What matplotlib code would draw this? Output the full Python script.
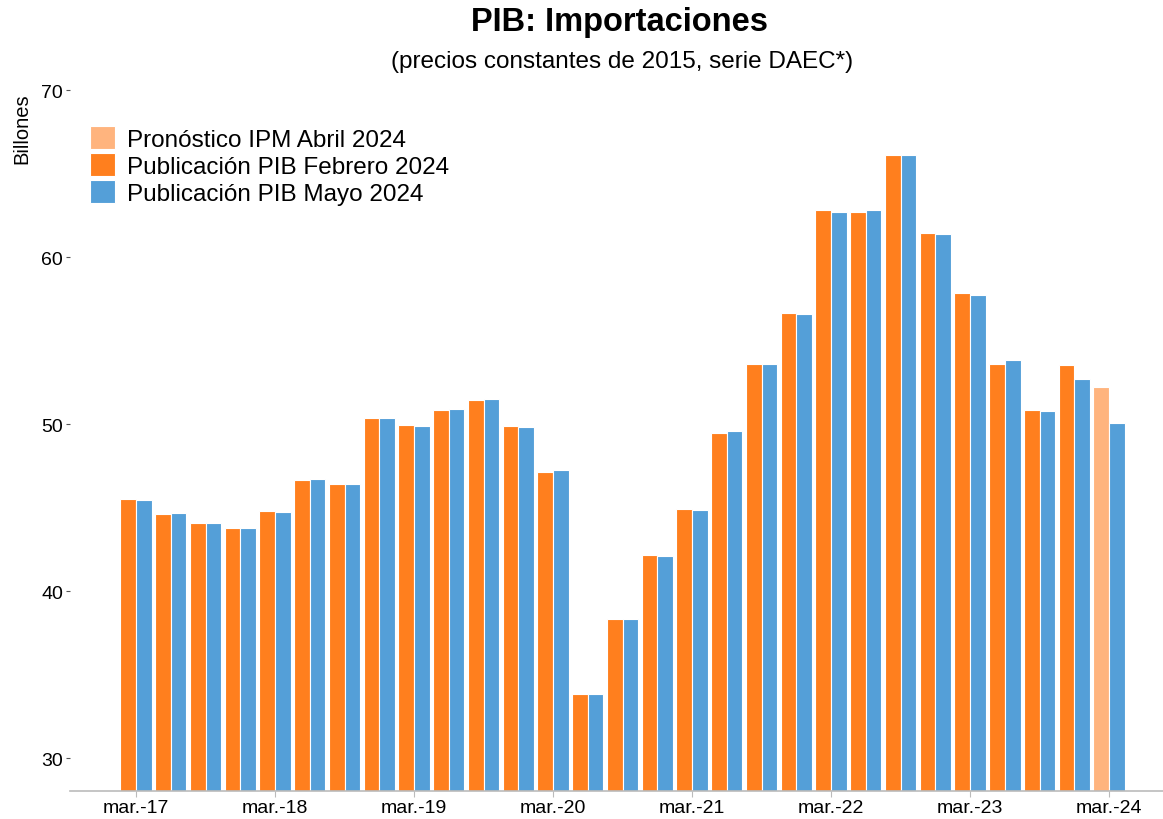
import numpy as np
import matplotlib.pyplot as plt

plt.rcParams["font.family"] = ["Liberation Sans", "DejaVu Sans"]

# ------------------------------------------------------------
# Datos (billones, precios constantes de 2015)
# ------------------------------------------------------------
trimestres = ["mar.-17", "jun.-17", "sep.-17", "dic.-17",
              "mar.-18", "jun.-18", "sep.-18", "dic.-18",
              "mar.-19", "jun.-19", "sep.-19", "dic.-19",
              "mar.-20", "jun.-20", "sep.-20", "dic.-20",
              "mar.-21", "jun.-21", "sep.-21", "dic.-21",
              "mar.-22", "jun.-22", "sep.-22", "dic.-22",
              "mar.-23", "jun.-23", "sep.-23", "dic.-23",
              "mar.-24"]

pib_febrero = [45.51, 44.59, 44.07, 43.75,
               44.79, 46.65, 46.41, 50.38,
               49.92, 50.86, 51.44, 49.86,
               47.11, 33.85, 38.32, 42.16,
               44.93, 49.48, 53.60, 56.65,
               62.81, 62.69, 66.09, 61.42,
               57.83, 53.57, 50.82, 53.55]

pib_mayo = [45.45, 44.65, 44.09, 43.75,
            44.73, 46.69, 46.41, 50.38,
            49.86, 50.92, 51.48, 49.84,
            47.23, 33.84, 38.30, 42.10,
            44.83, 49.57, 53.62, 56.59,
            62.69, 62.81, 66.11, 61.38,
            57.71, 53.86, 50.76, 52.68,
            50.04]

pronostico_ipm = [52.22]  # mar.-24

tick_labels = ["mar.-17", "mar.-18", "mar.-19", "mar.-20",
               "mar.-21", "mar.-22", "mar.-23", "mar.-24"]

# ------------------------------------------------------------
# Colores
# ------------------------------------------------------------
c_naranja = "#FF7F1E"
c_claro = "#FFB47E"
c_azul = "#549FD8"

fig = plt.figure(figsize=(11.63, 8.2), dpi=100)
ax = fig.add_axes([70 / 1163, 1 - 792 / 820, 1 - 70 / 1163, (792 - 86) / 820])

x = np.arange(len(trimestres))
w = 0.45
n_feb = len(pib_febrero)

ax.bar(x[len(x) - len(pronostico_ipm):] - w / 2, pronostico_ipm, width=w,
       color=c_claro, edgecolor="white", linewidth=0.8,
       label="Pronóstico IPM Abril 2024")
ax.bar(x[:n_feb] - w / 2, pib_febrero, width=w,
       color=c_naranja, edgecolor="white", linewidth=0.8,
       label="Publicación PIB Febrero 2024")
ax.bar(x + w / 2, pib_mayo, width=w,
       color=c_azul, edgecolor="white", linewidth=0.8,
       label="Publicación PIB Mayo 2024")

ax.set_ylim(28.03, 70.3)
ax.set_xlim(-1.9, 29.55)
ax.set_yticks([30, 40, 50, 60, 70])
ax.set_xticks([trimestres.index(t) for t in tick_labels])
ax.set_xticklabels(tick_labels)
ax.tick_params(axis="both", labelsize=14, length=3, color="#555555",
               colors="black")
ax.tick_params(axis="x", length=4, color="#bbbbbb", pad=2)
ax.tick_params(axis="y", pad=2)

for s in ["top", "right", "left"]:
    ax.spines[s].set_visible(False)
ax.spines["bottom"].set_color("#bbbbbb")
ax.spines["bottom"].set_linewidth(1.2)

ax.set_ylabel("Billones", fontsize=14.5)
ax.yaxis.set_label_coords(-0.044, 0.99)
ax.yaxis.label.set_verticalalignment("center")
ax.yaxis.label.set_horizontalalignment("right")

leg = ax.legend(loc="upper left", bbox_to_anchor=(0.009, 0.955), frameon=False,
                fontsize=17.5, handlelength=1.05, handleheight=1.05,
                handletextpad=0.5, labelspacing=0.1, borderaxespad=0.0)

fig.text(0.533, 0.973, "PIB: Importaciones", ha="center", va="center",
         fontsize=23.5, fontweight="bold")
fig.text(0.535, 0.924, "(precios constantes de 2015, serie DAEC*)",
         ha="center", va="center", fontsize=17.5)

fig.savefig("out.png", dpi=100)
